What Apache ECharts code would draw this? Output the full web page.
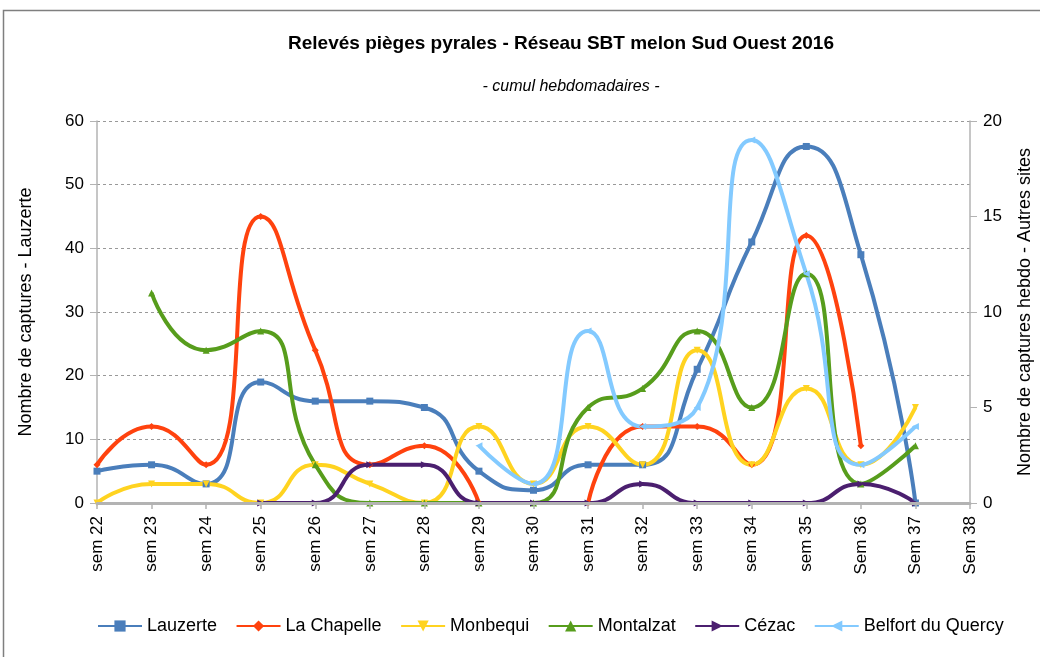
<!DOCTYPE html>
<html>
<head>
<meta charset="utf-8">
<script src="https://cdn.jsdelivr.net/npm/echarts@6/dist/echarts.min.js"></script>
<style>html,body{margin:0;padding:0;background:#fff;overflow:hidden}#c{width:1040px;height:657px}</style>
</head>
<body>
<div id="c"></div>
<script>
const categories = ['sem 22','sem 23','sem 24','sem 25','sem 26','sem 27','sem 28','sem 29','sem 30','sem 31','sem 32','sem 33','sem 34','sem 35','Sem 36','Sem 37','Sem 38'];
const lauzerte    = [5, 6, 3, 19, 16, 16, 15, 5, 2, 6, 6, 21, 41, 56, 39, 0, null];
const laChapelle  = [2, 4, 2, 15, 8, 2, 3, 0, null, 0, 4, 4, 2, 14, 3, null, null];
const monbequi    = [0, 1, 1, 0, 2, 1, 0, 4, 1, 4, 2, 8, 2, 6, 2, 5, null];
const montalzat   = [null, 11, 8, 9, 2, 0, 0, 0, 0, 5, 6, 9, 5, 12, 1, 3, null];
const cezac       = [null, null, null, 0, 0, 2, 2, 0, 0, 0, 1, 0, 0, 0, 1, 0, null];
const belfort     = [null, null, null, null, null, null, null, 3, 1, 9, 4, 5, 19, 12, 2, 4, null];
const leftTicks = [0, 10, 20, 30, 40, 50, 60];
const rightTicks = [0, 5, 10, 15, 20];

const chart = echarts.init(document.getElementById('c'), null, {renderer: 'canvas'});
const FONT = 'Liberation Sans';
function mk(name, data, color, symbol, yIdx, rotate) {
  return {
    name, type: 'line', data, yAxisIndex: yIdx, smooth: 0.55,
    connectNulls: false, clip: true,
    symbol, symbolSize: 7, symbolRotate: rotate || 0, showSymbol: true,
    lineStyle: {color, width: 4},
    itemStyle: {color, borderWidth: 0},
    z: 2
  };
}
chart.setOption({
  animation: false,
  backgroundColor: '#fff',
  graphic: [{type: 'rect', shape: {x: 3.5, y: 10.5, width: 1100, height: 700}, style: {fill: 'none', stroke: '#7f7f7f', lineWidth: 1.5}, z: -1}],
  title: [
    {text: 'Relevés pièges pyrales - Réseau SBT melon Sud Ouest 2016', left: 556, top: 29, textAlign: 'center',
     textStyle: {fontFamily: FONT, fontSize: 19, fontWeight: 'bold', color: '#000'}},
    {text: '- cumul hebdomadaires -', left: 566, top: 74, textAlign: 'center',
     textStyle: {fontFamily: FONT, fontSize: 16, fontStyle: 'italic', fontWeight: 'normal', color: '#000'}}
  ],
  legend: {
    left: 92, top: 612, itemGap: 18.5, itemWidth: 44, itemHeight: 14,
    textStyle: {fontFamily: FONT, fontSize: 18, color: '#000'},
    data: ['Lauzerte','La Chapelle','Monbequi','Montalzat','Cézac','Belfort du Quercy']
  },
  grid: {left: 97, right: 70, top: 121, bottom: 154, containLabel: false, outerBoundsMode: 'none'},
  xAxis: {
    type: 'category', data: categories, boundaryGap: false, z: 10,
    axisLine: {lineStyle: {color: '#b3b3b3', width: 3}},
    axisTick: {show: true, alignWithLabel: true, length: 6, lineStyle: {color: '#b3b3b3', width: 1.5}},
    axisLabel: {rotate: 90, interval: 0, margin: 13, fontFamily: FONT, fontSize: 17, color: '#000'},
    splitLine: {show: false}
  },
  yAxis: [
    {type: 'value', min: 0, max: 60, interval: 10, position: 'left',
     name: 'Nombre de captures - Lauzerte', nameLocation: 'middle', nameGap: 62, nameRotate: 90,
     nameTextStyle: {fontFamily: FONT, fontSize: 18, color: '#000'},
     axisLine: {show: true, lineStyle: {color: '#b3b3b3', width: 1.5}},
     axisTick: {show: true, length: 7, lineStyle: {color: '#b3b3b3'}},
     axisLabel: {fontFamily: FONT, fontSize: 17, color: '#000', margin: 13,
       formatter: v => leftTicks.includes(v) ? String(v) : ''},
     splitLine: {show: true, lineStyle: {color: '#999', type: [3, 3], width: 1}}},
    {type: 'value', min: 0, max: 20, interval: 5, position: 'right',
     name: 'Nombre de captures hebdo - Autres sites', nameLocation: 'middle', nameGap: 46, nameRotate: 90,
     nameTextStyle: {fontFamily: FONT, fontSize: 18, color: '#000'},
     axisLine: {show: true, lineStyle: {color: '#b3b3b3', width: 1.5}},
     axisTick: {show: true, length: 7, lineStyle: {color: '#b3b3b3'}},
     axisLabel: {fontFamily: FONT, fontSize: 17, color: '#000', margin: 13,
       formatter: v => rightTicks.includes(v) ? String(v) : ''},
     splitLine: {show: false}}
  ],
  series: [
    mk('Lauzerte', lauzerte, '#4a7ebb', 'rect', 0),
    mk('La Chapelle', laChapelle, '#ff420e', 'diamond', 1),
    mk('Monbequi', monbequi, '#ffd320', 'triangle', 1, 180),
    mk('Montalzat', montalzat, '#579d1c', 'triangle', 1),
    mk('Cézac', cezac, '#4b1f6f', 'triangle', 1, -90),
    mk('Belfort du Quercy', belfort, '#83caff', 'triangle', 1, 90)
  ]
});
</script>
</body>
</html>
